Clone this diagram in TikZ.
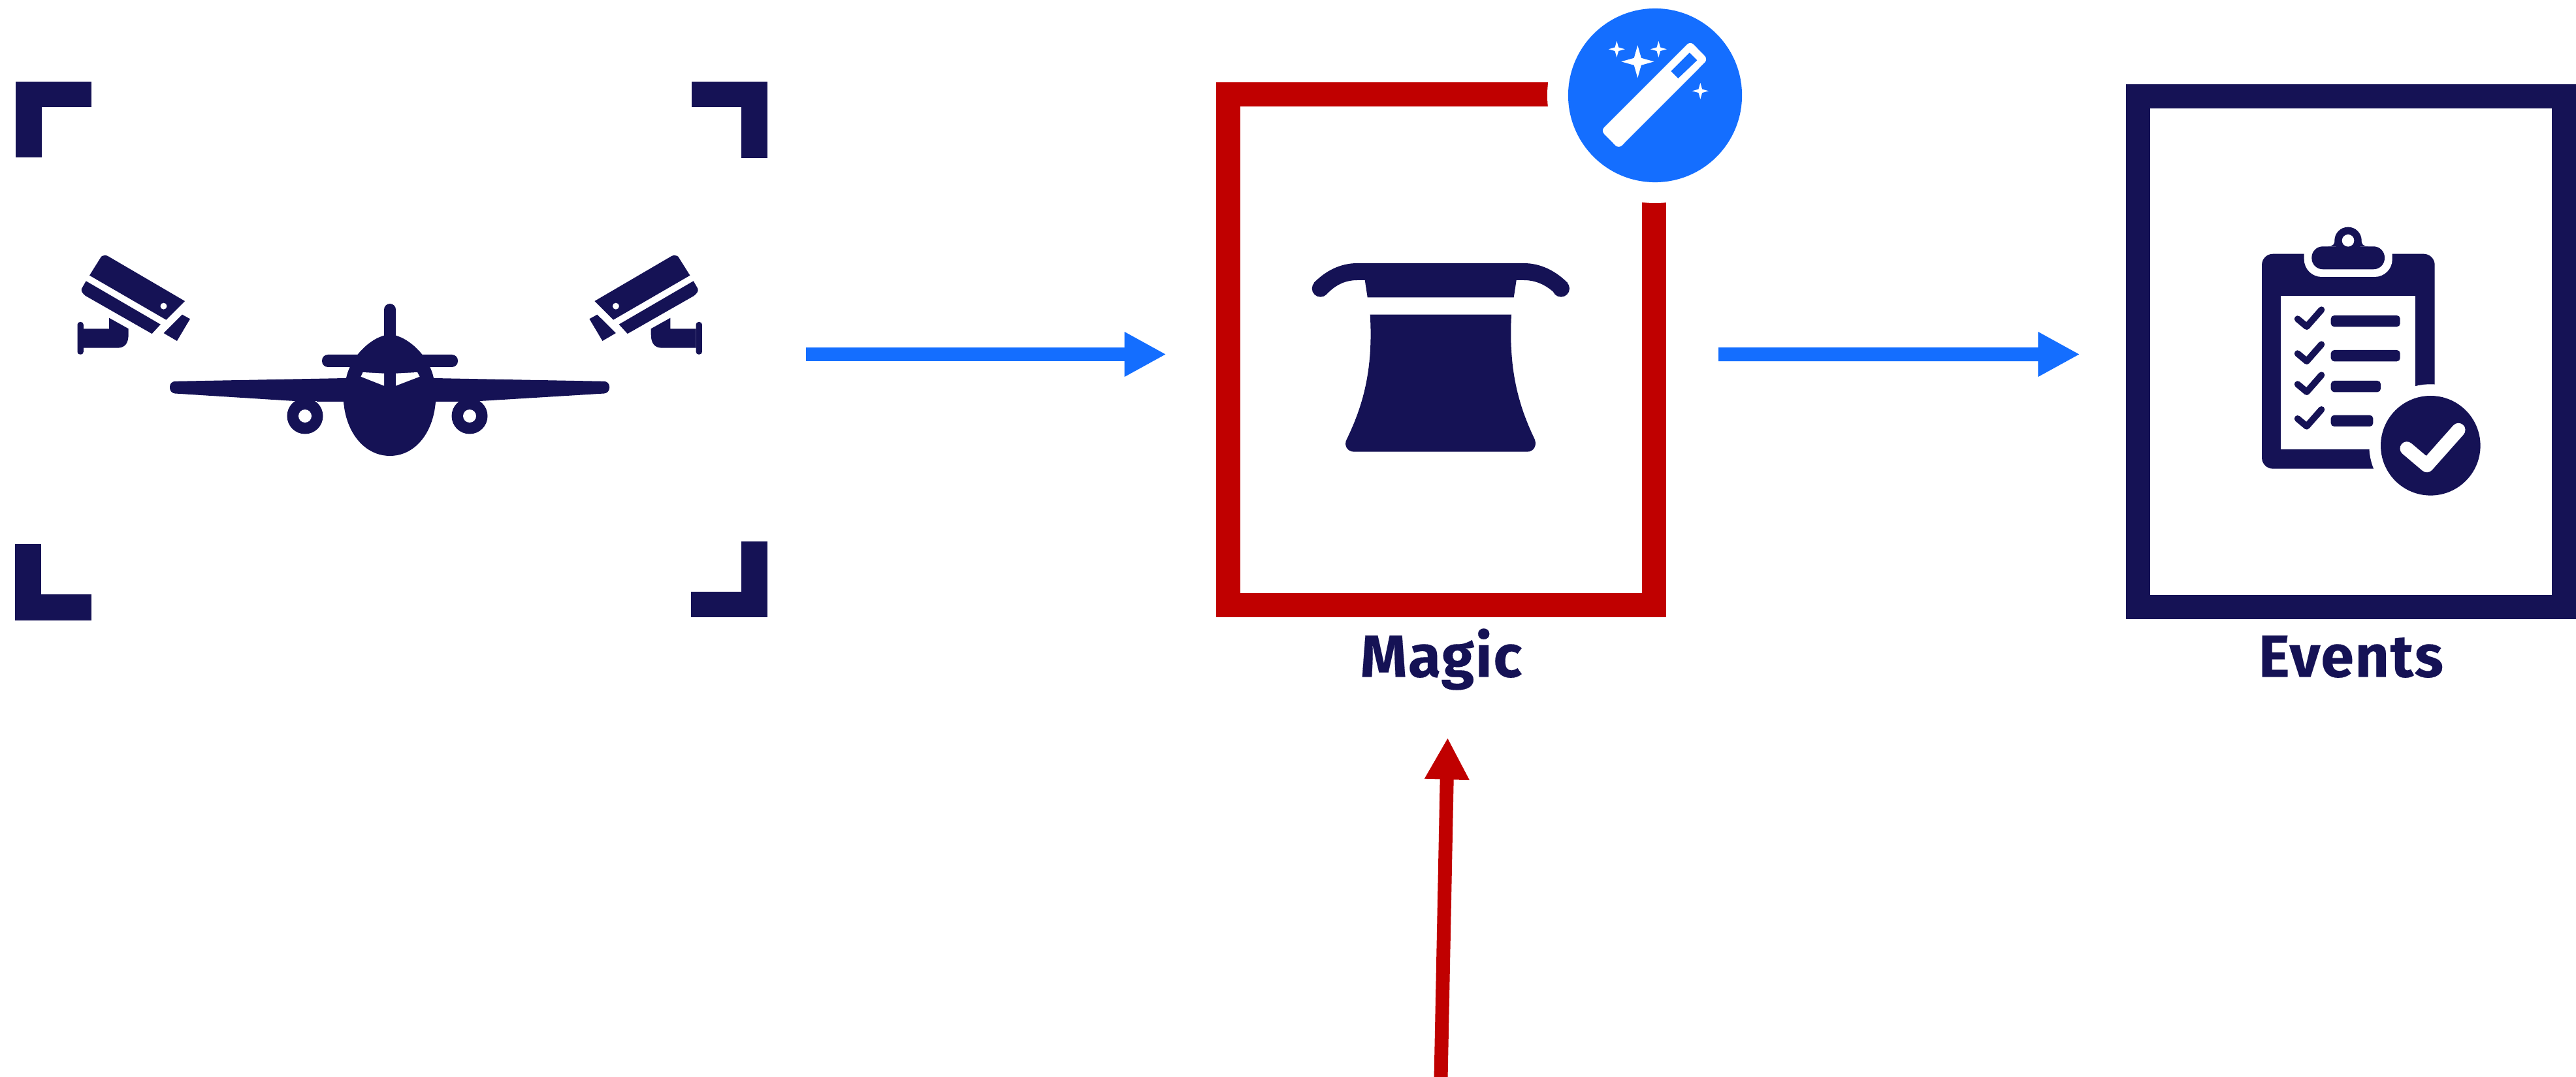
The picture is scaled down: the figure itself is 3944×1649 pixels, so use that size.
\documentclass[tikz,border=0pt]{standalone}
\usepackage{fontspec}
\setmainfont{Fira Sans}[BoldFeatures={FakeBold=0.2,LetterSpace=2}]
\usepackage{xcolor}
\usepackage{tikz}
\usetikzlibrary{arrows.meta,positioning}
\definecolor{navyink}{HTML}{151255}
\definecolor{flowblue}{HTML}{146EFF}
\definecolor{magicred}{HTML}{C00000}

\begin{document}
\begin{tikzpicture}[
        x=0.01cm,y=-0.01cm,
        zone/.style={rectangle,minimum width=11.51cm,minimum height=8.25cm,inner sep=0pt,outer sep=0pt},
        frame/.style={rectangle,draw,line width=0.37cm,minimum width=6.52cm,minimum height=7.82cm,inner sep=0pt},
        boxlabel/.style={font=\fontsize{25.9}{30}\selectfont\bfseries,text=navyink,inner sep=0pt},
        bracket/.style={draw=navyink,line width=0.395cm},
        flow/.style={-{Triangle[length=0.64cm,width=0.64cm]},line width=0.21cm},
        check/.style={draw=navyink,line width=0.1cm,line cap=round,line join=round},
        camera/.pic={
            \fill[navyink] (137,421.7) -- (155,393) .. controls (156,391) and (163,390.5) .. (165,392) -- (283,461) -- (254.4,489.7) -- cycle;
            \fill[white] (250.5,468.7) circle[radius=5];
            \fill[navyink] (131.7,430.3) -- (245.8,496.7) -- (232.6,511) -- (131,453) .. controls (126,449) and (124,446) .. (125,442) -- cycle;
            \fill[navyink] (279,481.7) -- (291,488.3) -- (271,522) -- (250.5,510) -- cycle;
            \fill[navyink] (127.8,503.3) -- (167,503.3) -- (167,486.7) -- (196.7,503.3) -- (196.7,512) .. controls (196.7,526) and (191,532.7) .. (179.5,532.7) -- (127.8,532.7) -- cycle;
            \fill[navyink,rounded corners=0.04cm] (118.5,493) rectangle (127.8,542.7);
        }
    ]
        \useasboundingbox (0,0) rectangle (3944,1649);

        \node[zone] (source) at (598.5,535.5) {};
        \node[frame,draw=magicred,right=6.87cm of source] (magic) {};
        \node[frame,draw=navyink,right=7.03cm of magic,yshift=-0.03cm] (events) {};
        \node[boxlabel,below=0.91cm of magic,anchor=base] (magiclabel) {Magic};
        \node[boxlabel,below=0.88cm of events,anchor=base] (eventslabel) {Events};
        \coordinate (feed) at (2206,1652);

        % corners round the source zone
        \draw[bracket] (140,144.5) -- (44,144.5) -- (44,241);
        \draw[bracket] (1059,144.5) -- (1155,144.5) -- (1155,242);
        \draw[bracket] (43,833) -- (43,930) -- (140,930);
        \draw[bracket] (1058,925.5) -- (1155,925.5) -- (1155,829);

        % plane
        \fill[navyink,rounded corners=0.09cm] (588,465) rectangle (606,525);
        \fill[navyink,rounded corners=0.09cm] (493,543) rectangle (701,562);
        \fill[navyink,rounded corners=0.08cm] (664,579) -- (933,584) -- (933,602) -- (736,614) -- (450,614) -- (260,602) -- (260,584) -- (530,579) -- cycle;
        \fill[navyink] (597,512) .. controls (570,514) and (537,545) .. (530,579) -- (526,615) .. controls (530,665) and (560,698) .. (597,698) .. controls (634,698) and (663,665) .. (667,615) -- (664,579) .. controls (657,545) and (624,514) .. (597,512);
        \fill[navyink] (485,612) rectangle (710,615);
        \foreach \ex in {467,719} {
            \fill[navyink] (\ex,637) circle[radius=27.5];
            \fill[white] (\ex,637) circle[radius=10];
        }
        \fill[white] (555.6,570) -- (588,571.7) -- (588,590.7) -- (552.5,576.7) -- cycle;
        \fill[white] (606,571.7) -- (639,570) -- (642.5,576.7) -- (606,590.7) -- cycle;

        \pic at (0,0) {camera};
        \pic[xscale=-1] at (1193.4,0) {camera};

        % hat
        \fill[navyink] (2078,403) -- (2333,403) .. controls (2358,403) and (2381,414) .. (2400,433) -- (2381.7,450) .. controls (2367,436) and (2351,429) .. (2333.3,429) -- (2321.7,429) -- (2317.7,455.3) -- (2093.7,455.3) -- (2089.7,429) -- (2078,429) .. controls (2060,429) and (2045,436) .. (2031.7,450) -- (2011.7,433) .. controls (2030,414) and (2053,403) .. (2078,403);
        \fill[navyink] (2021.7,441.7) circle[radius=13];
        \fill[navyink] (2390,441.7) circle[radius=13];
        \fill[navyink] (2097.7,481.7) -- (2314,481.7) .. controls (2310,560) and (2322,615) .. (2349.3,671.7) .. controls (2354,682) and (2348,691.7) .. (2338.3,691.7) -- (2073.3,691.7) .. controls (2063,691.7) and (2057,682) .. (2061.7,673) .. controls (2090,615) and (2102,560) .. (2097.7,481.7) -- cycle;

        % wand badge
        \fill[white] (2534,146) circle[radius=165];
        \node[circle,fill=flowblue,minimum size=2.66cm,inner sep=0pt] (wand) at (2534,146) {};
        \fill[white,rounded corners=0.07cm] (2588,63) -- (2615,90.7) -- (2478.3,227.7) -- (2451,200) -- cycle;
        \fill[flowblue] (2586.7,80.7) -- (2598.3,92.3) -- (2569.3,120) -- (2558.3,109) -- cycle;
        \foreach \sx/\sy/\sr in {2507.3/94.3/25,2475.3/75.3/12.5,2539.3/75.3/12.5,2603.3/139.3/12.5} {
            \fill[white] (\sx,\sy-\sr) -- (\sx+.22*\sr,\sy-.22*\sr) -- (\sx+\sr,\sy) -- (\sx+.22*\sr,\sy+.22*\sr) -- (\sx,\sy+\sr) -- (\sx-.22*\sr,\sy+.22*\sr) -- (\sx-\sr,\sy) -- (\sx-.22*\sr,\sy-.22*\sr) -- cycle;
        }

        % clipboard
        \fill[navyink,rounded corners=0.17cm] (3463,388.7) rectangle (3727.7,717.7);
        \fill[white,rounded corners=0.27cm] (3527.7,360) rectangle (3662.7,424);
        \fill[white] (3492.3,453.3) rectangle (3698.3,688.3);
        \fill[white] (3721.3,682.3) circle[radius=94];
        \fill[white] (3727.8,700) rectangle (3800,760);
        \fill[navyink] (3595,368.3) circle[radius=20.7];
        \fill[navyink] (3575,365) -- (3615,365) .. controls (3615,374) and (3618,377.3) .. (3626,377.3) -- (3564,377.3) .. controls (3572,377.3) and (3575,374) .. (3575,365);
        \fill[navyink,rounded corners=0.17cm] (3539.3,377.3) rectangle (3651,412.3);
        \fill[white] (3595,368.3) circle[radius=9.3];
        \foreach \dy/\bx in {0/3674.7,53/3674.7,100/3645,152.7/3633.3} {
            \draw[check] (3517.7,488.3+\dy) -- (3531.7,500+\dy) -- (3554.3,474.3+\dy);
            \fill[navyink,rounded corners=0.05cm] (3568.7,483+\dy) rectangle (\bx,500.3+\dy);
        }
        \fill[navyink] (3721.3,682.3) circle[radius=76.3];
        \draw[white,line width=0.21cm,line cap=round,line join=round] (3685,686.7) -- (3715.7,712.7) -- (3764,658.3);

        \draw[flow,draw=flowblue,fill=flowblue] ([shift={(0.6cm,-0.07cm)}]source.east) -- ([shift={(-0.76cm,-0.07cm)}]magic.west);
        \draw[flow,draw=flowblue,fill=flowblue] ([shift={(0.8cm,-0.07cm)}]magic.east) -- ([shift={(-0.7cm,-0.04cm)}]events.west);
        \draw[flow,draw=magicred,fill=magicred] (feed) -- ([shift={(0.1cm,-1.84cm)}]magic.south);
    \end{tikzpicture}
\end{document}
